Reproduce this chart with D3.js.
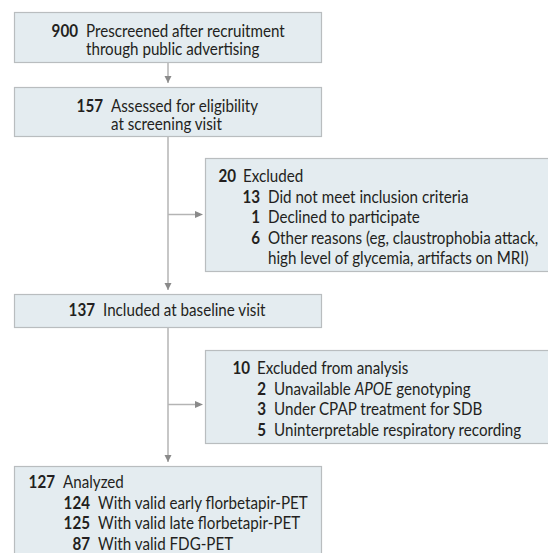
<!DOCTYPE html>
<html>
<head>
<meta charset="utf-8">
<script src="https://cdn.jsdelivr.net/npm/d3@7"></script>
<style>
  body { margin: 0; background: #fff; }
  svg text { font-family: Lato, "Liberation Sans", sans-serif; font-size: 16.5px; fill: #231f20; }
  svg text .num { font-weight: bold; }
</style>
</head>
<body>
<svg id="vis" width="548" height="553"></svg>
<script>
// main flow: counts and labels
const mainCounts = [900, 157, 137, 127];
const mainLabels = [
  ['Prescreened after recruitment', 'through public advertising'],
  ['Assessed for eligibility', 'at screening visit'],
  ['Included at baseline visit'],
  ['Analyzed'],
];
// sub items of the analyzed box
const analyzedCounts = [124, 125, 87];
const analyzedLabels = [
  'With valid early florbetapir-PET',
  'With valid late florbetapir-PET',
  'With valid FDG-PET',
];
// first exclusion box
const excl1Total = 20;
const excl1Title = 'Excluded';
const excl1Counts = [13, 1, 6];
const excl1Labels = [
  ['Did not meet inclusion criteria'],
  ['Declined to participate'],
  ['Other reasons (eg, claustrophobia attack,', 'high level of glycemia, artifacts on MRI)'],
];
// second exclusion box
const excl2Total = 10;
const excl2Title = 'Excluded from analysis';
const excl2Counts = [2, 3, 5];
const excl2Labels = [
  [['Unavailable ', false], ['APOE', true], [' genotyping', false]],
  [['Under CPAP treatment for SDB', false]],
  [['Uninterpretable respiratory recording', false]],
];

const vis = d3.select('#vis');
const fill = '#e4ecf0';
const stroke = '#b9bdbf';
const lineColor = '#b4b4b4';
const arrowColor = '#8a8a8a';
const lh = 20.5;
const cx = 168;
const sx = 0.92; // narrow the font to match the condensed original

// box frames (layout, not data)
const boxes = [
  {x: 14, y: 12, w: 307, h: 50},
  {x: 14, y: 87, w: 307, h: 49},
  {x: 14, y: 294, w: 307, h: 33},
  {x: 14, y: 466, w: 307, h: 100},
  {x: 205, y: 158, w: 350, h: 113},
  {x: 205, y: 350, w: 350, h: 93},
];

const links = vis.append('g').attr('class', 'links');
const boxG = vis.append('g').attr('class', 'boxes');

boxG.selectAll('rect').data(boxes).enter().append('rect')
    .attr('x', d => d.x + 0.5)
    .attr('y', d => d.y + 0.5)
    .attr('width', d => d.w)
    .attr('height', d => d.h)
    .attr('fill', fill)
    .attr('stroke', stroke)
    .attr('stroke-width', 1.2);

// connectors
function vline(y1, y2) {
  links.append('line')
      .attr('x1', cx).attr('x2', cx).attr('y1', y1).attr('y2', y2)
      .attr('stroke', lineColor).attr('stroke-width', 1.5);
}
function downArrow(tipY) {
  links.append('path')
      .attr('d', `M${cx - 3.5},${tipY - 7}L${cx + 3.5},${tipY - 7}L${cx},${tipY}Z`)
      .attr('fill', arrowColor);
}
function rightArrow(y, tipX) {
  links.append('line')
      .attr('x1', cx).attr('x2', tipX - 6).attr('y1', y).attr('y2', y)
      .attr('stroke', lineColor).attr('stroke-width', 1.5);
  links.append('path')
      .attr('d', `M${tipX - 8},${y - 3.5}L${tipX - 8},${y + 3.5}L${tipX},${y}Z`)
      .attr('fill', arrowColor);
}
vline(boxes[0].y + boxes[0].h, boxes[1].y - 4);
downArrow(boxes[1].y - 4);
vline(boxes[1].y + boxes[1].h, boxes[2].y - 4);
downArrow(boxes[2].y - 4);
rightArrow(boxes[4].y + boxes[4].h / 2, boxes[4].x - 2);
vline(boxes[2].y + boxes[2].h, boxes[3].y - 4);
downArrow(boxes[3].y - 4);
rightArrow(boxes[5].y + boxes[5].h / 2 + 8, boxes[5].x - 2);

const txt = vis.append('g').attr('class', 'texts');

function put(x, y) {
  return txt.append('text').attr('transform', `translate(${x},${y}) scale(${sx},1)`);
}

function row(numRight, textX, baseY, num, lines, step) {
  if (num !== null) {
    put(numRight, baseY)
        .attr('text-anchor', 'end')
        .append('tspan').attr('class', 'num').text(num);
  }
  lines.forEach((l, i) => {
    const t = put(textX, baseY + i * (step || lh));
    if (Array.isArray(l)) {
      l.forEach(p => t.append('tspan').attr('font-style', p[1] ? 'italic' : null).text(p[0]));
    } else {
      t.text(l);
    }
  });
}

// main boxes
const mainNum = [[78, 86, 36.5], [103, 111, 111.5], [95, 103, 316], [55, 63, 488]];
mainCounts.forEach((c, i) => {
  const m = mainNum[i];
  row(m[0], m[1], m[2], c, mainLabels[i], 18);
});
analyzedCounts.forEach((c, i) => row(90, 98, 488 + (i + 1) * lh, c, [analyzedLabels[i]]));

// exclusion 1
row(236, 243, 182, excl1Total, [excl1Title]);
let yy = 182 + lh;
excl1Counts.forEach((c, i) => {
  row(260, 268, yy, c, excl1Labels[i]);
  yy += excl1Labels[i].length * lh;
});

// exclusion 2
row(250, 257, 374, excl2Total, [excl2Title]);
excl2Counts.forEach((c, i) => {
  row(266, 274, 374 + (i + 1) * lh, c, [excl2Labels[i]]);
});
</script>
</body>
</html>
